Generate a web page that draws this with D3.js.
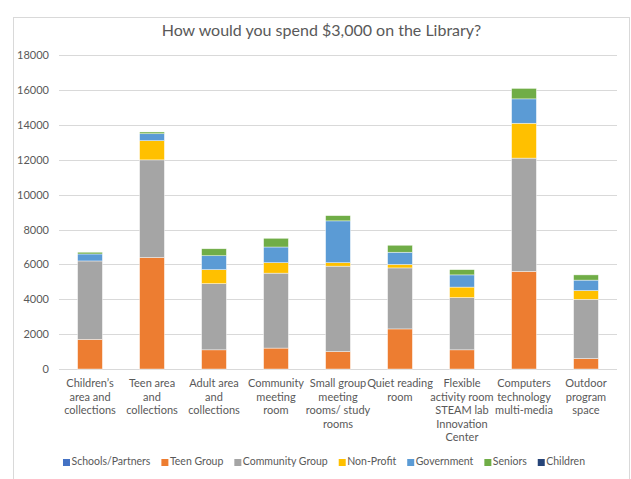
<!DOCTYPE html>
<html><head><meta charset="utf-8">
<script src="https://cdn.jsdelivr.net/npm/d3@7"></script>
<style>body{margin:0;background:#fff;} svg{display:block;} text{font-family:Lato,"Open Sans",sans-serif;}</style>
</head><body>
<svg id="c" width="631" height="479"></svg>
<script>
const categories = ["Children’s\narea and\ncollections","Teen area\nand\ncollections","Adult area\nand\ncollections","Community\nmeeting\nroom","Small group\nmeeting\nrooms/ study\nrooms","Quiet reading\nroom","Flexible\nactivity room\nSTEAM lab\nInnovation\nCenter","Computers\ntechnology\nmulti-media","Outdoor\nprogram\nspace"];
const seriesNames = ["Schools/Partners","Teen Group","Community Group","Non-Profit","Government","Seniors","Children"];
const schoolsPartners = [0,0,0,0,0,0,0,0,0];
const teenGroup       = [1700,6400,1100,1200,1000,2300,1100,5600,600];
const communityGroup  = [4500,5600,3800,4300,4900,3500,3000,6500,3400];
const nonProfit       = [0,1100,800,600,200,200,600,2000,500];
const government      = [400,400,800,900,2400,700,700,1400,600];
const seniors         = [100,100,400,500,300,400,300,600,300];
const children        = [0,0,0,0,0,0,0,0,0];
const yTicks = [0,2000,4000,6000,8000,10000,12000,14000,16000,18000];
const colors = ["#4472C4","#ED7D31","#A5A5A5","#FFC000","#5B9BD5","#70AD47","#264478"];

const seriesValues = [schoolsPartners,teenGroup,communityGroup,nonProfit,government,seniors,children];
const rows = categories.map((c,i)=>{const r={cat:c}; seriesNames.forEach((s,j)=>r[s]=seriesValues[j][i]); return r;});
const stacked = d3.stack().keys(seriesNames)(rows);

const svg = d3.select("#c");
// frame
svg.append("rect").attr("x",13.5).attr("y",17.5).attr("width",616).attr("height",475)
  .attr("fill","#fff").attr("stroke","#D9D9D9").attr("stroke-width",1);

const x = d3.scaleBand().domain(categories).range([59,617]).paddingInner(0.6).paddingOuter(0.3);
const y = d3.scaleLinear().domain([0,18000]).range([369,55.3]);

// gridlines
svg.append("g").selectAll("line").data(yTicks).join("line")
  .attr("x1",59).attr("x2",617).attr("y1",d=>Math.round(y(d))+0.5).attr("y2",d=>Math.round(y(d))+0.5)
  .attr("stroke","#D9D9D9").attr("stroke-width",1);

// y axis labels
const yAxis = d3.axisLeft(y).tickValues(yTicks).tickSize(0).tickPadding(10).tickFormat(d3.format("d"));
const ga = svg.append("g").attr("transform","translate(59,0)").call(yAxis);
ga.select(".domain").remove();
ga.selectAll("text").attr("fill","#595959").style("font-size","11px").style("font-family","Lato, sans-serif");

// bars
svg.append("g").selectAll("g").data(stacked).join("g").attr("fill",(d,i)=>colors[i])
  .selectAll("rect").data(d=>d).join("rect")
  .attr("x",d=>x(d.data.cat)).attr("width",x.bandwidth())
  .attr("y",d=>y(d[1])).attr("height",d=>Math.max(0,y(d[0])-y(d[1])))
  .attr("stroke",d=>(d[1]-d[0])>0?"#fff":"none").attr("stroke-width",0.6).attr("stroke-opacity",0.7);

// x labels
const xl = svg.append("g").selectAll("text").data(categories).join("text")
  .attr("x",d=>x(d)+x.bandwidth()/2).attr("y",387).attr("text-anchor","middle")
  .attr("fill","#595959").style("font-size","11px");
xl.each(function(d){
  const t=d3.select(this);
  d.split("\n").forEach((ln,i)=>t.append("tspan").attr("x",x(d)+x.bandwidth()/2).attr("dy",i===0?0:13.6).text(ln));
});

// title
svg.append("text").attr("x",321.5).attr("y",36).attr("text-anchor","middle")
  .attr("fill","#595959").style("font-size","16px").text("How would you spend $3,000 on the Library?");

// legend
const lg = svg.append("g");
const items = lg.selectAll("g").data(seriesNames).join("g");
items.append("rect").attr("width",7).attr("height",7).attr("y",-6).attr("fill",(d,i)=>colors[i]);
items.append("text").attr("x",8.5).attr("y",0).attr("fill","#595959").style("font-size","10.5px").text(d=>d);
let pos=0; const offs=[];
items.each(function(){ const w=d3.select(this).select("text").node().getComputedTextLength(); offs.push(pos); pos+=8.5+w+11; });
const total = pos-11; const start = 324 - total/2;
items.attr("transform",(d,i)=>`translate(${start+offs[i]},465)`);
</script>
</body></html>
